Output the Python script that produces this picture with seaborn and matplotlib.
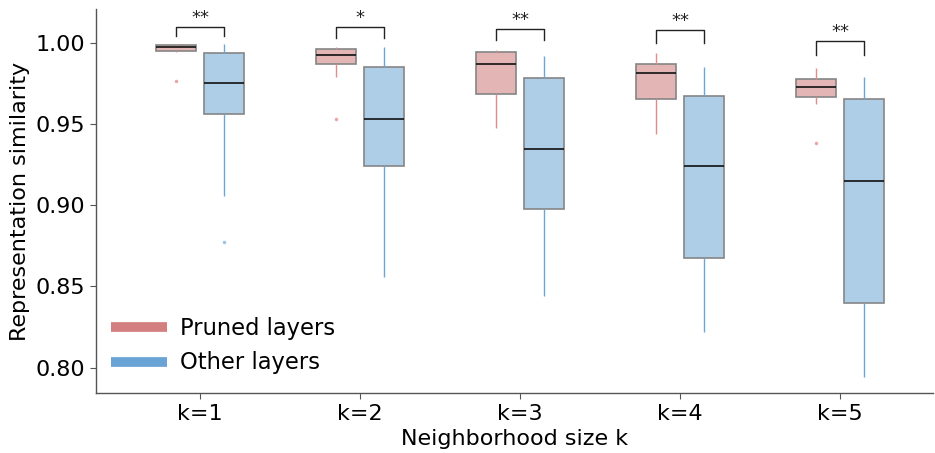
import numpy as np
import pandas as pd
import matplotlib
matplotlib.use("Agg")
import matplotlib.pyplot as plt
from matplotlib.lines import Line2D
import seaborn as sns

# ---------------- data ----------------
categories = ["k=1", "k=2", "k=3", "k=4", "k=5"]
groups = ["Pruned layers", "Other layers"]

pruned_whislo = [0.9945, 0.9787, 0.9477, 0.9440, 0.9621]
pruned_q1     = [0.9951, 0.9867, 0.9684, 0.9655, 0.9668]
pruned_med    = [0.9974, 0.9924, 0.9869, 0.9814, 0.9729]
pruned_q3     = [0.9986, 0.9959, 0.9941, 0.9871, 0.9775]
pruned_whishi = [0.9992, 0.9975, 0.9955, 0.9937, 0.9846]
pruned_outliers = [[0.9766], [0.9530], [], [], [0.9383]]

other_whislo = [0.9057, 0.8556, 0.8441, 0.8218, 0.7945]
other_q1     = [0.9559, 0.9241, 0.8977, 0.8675, 0.8400]
other_med    = [0.9752, 0.9532, 0.9344, 0.9243, 0.9147]
other_q3     = [0.9938, 0.9852, 0.9785, 0.9672, 0.9655]
other_whishi = [0.9992, 0.9972, 0.9920, 0.9850, 0.9787]
other_outliers = [[0.8772], [], [], [], []]

sig_labels  = ["**", "*", "**", "**", "**"]
bracket_top = [1.0095, 1.0098, 1.0086, 1.0080, 1.0010]
bracket_tip = [1.0041, 1.0031, 1.0017, 1.0000, 0.9924]

# ---------------- build a sample reproducing each box summary ----------------
def sample_from_summary(lo, q1, med, q3, hi, outliers):
    # deterministic sample whose quartiles / whiskers equal the read values
    return list(outliers) + [lo] + [q1] * 10 + [med] * 10 + [q3] * 10 + [hi]

rows = []
for i, cat in enumerate(categories):
    for v in sample_from_summary(pruned_whislo[i], pruned_q1[i], pruned_med[i],
                                 pruned_q3[i], pruned_whishi[i], pruned_outliers[i]):
        rows.append((cat, groups[0], v))
    for v in sample_from_summary(other_whislo[i], other_q1[i], other_med[i],
                                 other_q3[i], other_whishi[i], other_outliers[i]):
        rows.append((cat, groups[1], v))
df = pd.DataFrame(rows, columns=["k", "group", "value"])

# ---------------- plot ----------------
main_colors = {"Pruned layers": "#d47f7f", "Other layers": "#6aa3d5"}
fill_colors = {"Pruned layers": "#e4b5b5", "Other layers": "#aecde6"}
whisker_colors = ["#e08c8c", "#6aa6da"]
flier_colors = ["#eaa5a5", "#9cc4e6"]

fig = plt.figure(figsize=(9.35, 4.53), dpi=100)
ax = fig.add_axes([96 / 935, (453 - 393.3) / 453, (933 - 96) / 935, (393.3 - 9) / 453])

sns.boxplot(data=df, x="k", y="value", hue="group", order=categories,
            hue_order=groups, palette=fill_colors, saturation=1, width=0.6, gap=0.17,
            linecolor="#858585", linewidth=1.2, showcaps=False,
            medianprops={"color": "black", "linewidth": 1.2},
            flierprops={"marker": "o", "markersize": 2.5, "markeredgewidth": 0},
            legend=False, ax=ax)

for ci, cont in enumerate(ax.containers):
    for w in cont.whiskers:
        w.set_color(whisker_colors[ci])
        w.set_linewidth(1.0)
    for f in cont.fliers:
        f.set_markerfacecolor(flier_colors[ci])
        f.set_markeredgecolor(flier_colors[ci])
    for m in cont.medians:
        m.set_color("#111111")

# significance brackets
for i, lab in enumerate(sig_labels):
    x0, x1 = i - 0.15, i + 0.15
    ax.plot([x0, x0, x1, x1], [bracket_tip[i], bracket_top[i], bracket_top[i], bracket_tip[i]],
            color="#222222", lw=1.0, clip_on=False)
    ax.text(i, bracket_top[i], lab, ha="center", va="bottom", fontsize=13,
            color="#222222", clip_on=False)

ax.set_ylim(0.7842, 1.0207)
ax.set_xlim(-0.65, 4.58)
ax.set_yticks([0.80, 0.85, 0.90, 0.95, 1.00])
ax.set_yticklabels(["0.80", "0.85", "0.90", "0.95", "1.00"])
ax.tick_params(axis="both", labelsize=16, length=4, color="#555555")
ax.set_xlabel("Neighborhood size k", fontsize=16)
ax.set_ylabel("Representation similarity", fontsize=16)
for s in ["top", "right"]:
    ax.spines[s].set_visible(False)
for s in ["left", "bottom"]:
    ax.spines[s].set_color("#555555")
    ax.spines[s].set_linewidth(1.0)

handles = [Line2D([0], [0], color=main_colors[g], lw=7, solid_capstyle="butt") for g in groups]
ax.legend(handles, groups, loc="lower left", frameon=False, fontsize=16.3,
          handlelength=2.45, handletextpad=0.6, labelspacing=0.51,
          bbox_to_anchor=(-0.006, -0.004))

fig.savefig("out.png", dpi=100)
